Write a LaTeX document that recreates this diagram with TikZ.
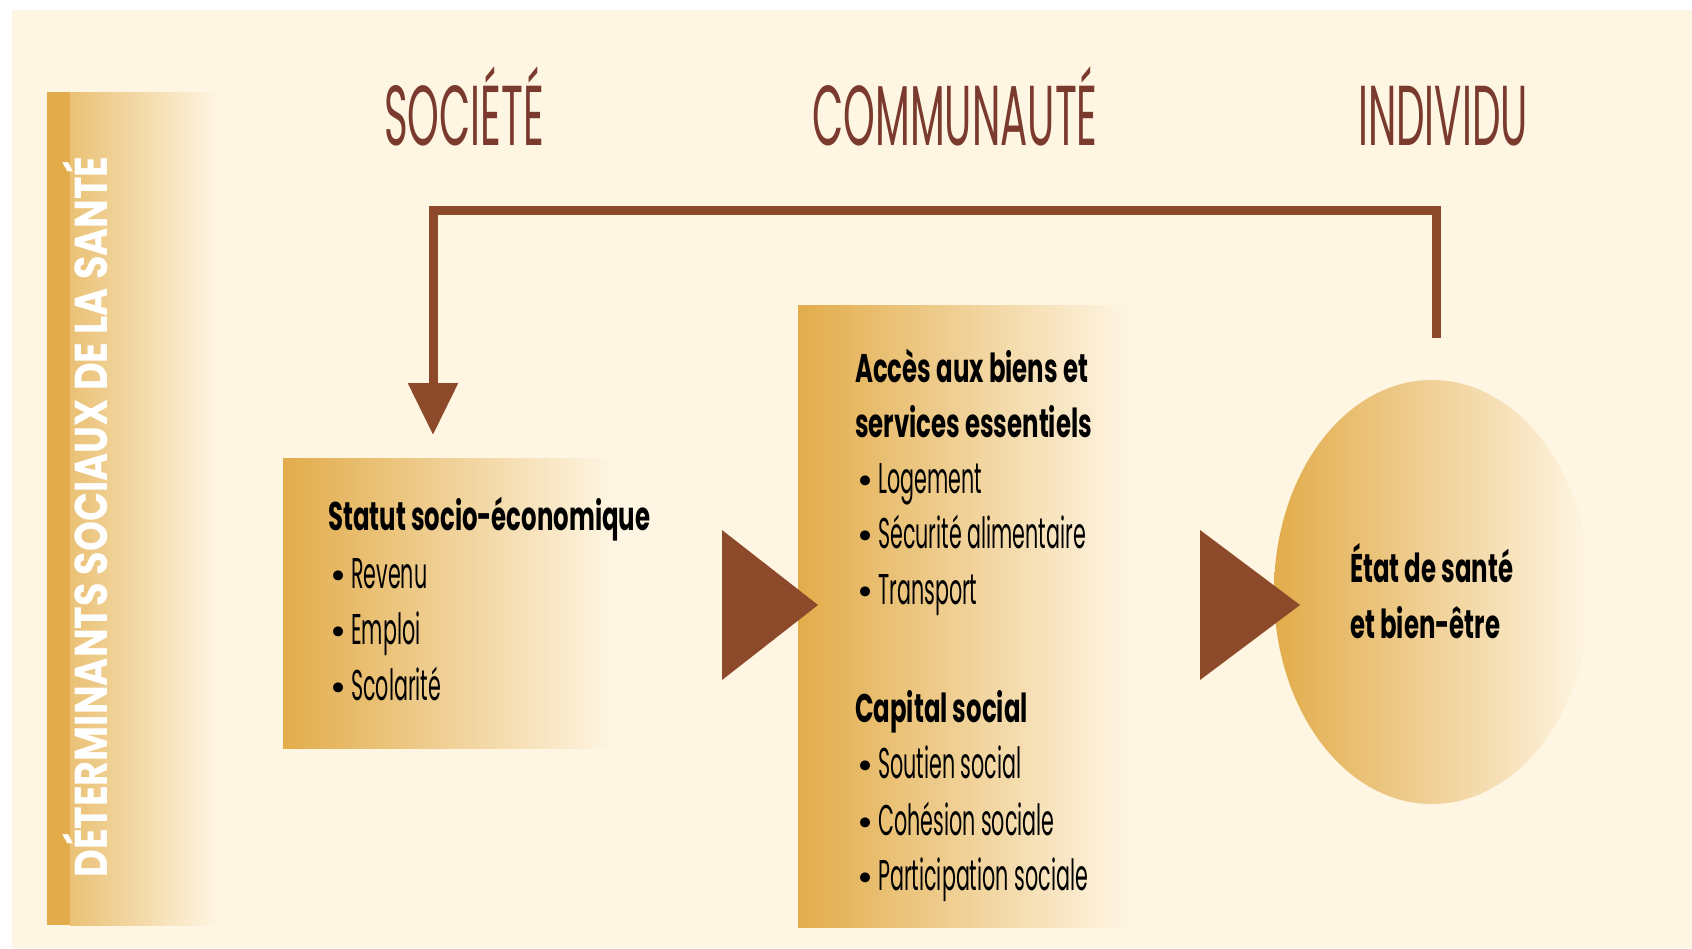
\documentclass[tikz,border=0pt]{standalone}
\usepackage{fontspec}
\usetikzlibrary{arrows.meta,calc,shapes.geometric}
\newfontfamily\hdfont[FakeStretch=0.475]{Poppins}
\newfontfamily\bxfont[FakeStretch=0.61]{Poppins}
\newfontfamily\itfont[FakeStretch=0.48]{Poppins}
\newfontfamily\vtfont[FakeStretch=0.83]{Poppins}
\newfontfamily\blfont{DejaVu Sans}
\newcommand{\bul}{{\blfont\fontsize{34}{48}\selectfont •}\hspace{3pt}}
\definecolor{cream}{HTML}{FEF5E2}
\definecolor{gold}{HTML}{E2AC4B}
\definecolor{goldlt}{HTML}{EAC175}
\definecolor{brownarr}{HTML}{8C4A2A}
\definecolor{brownhd}{HTML}{7B3A2E}
\begin{document}
\begin{tikzpicture}[x=1pt,y=-1pt,
  hd/.style={font=\hdfont\fontsize{85}{85}\selectfont, text=brownhd, inner sep=0pt, anchor=base},
  bold/.style={font=\bxfont\bfseries\fontsize{40}{48}\selectfont, inner sep=0pt, anchor=base west},
  item/.style={font=\itfont\fontsize{43}{48}\selectfont, inner sep=0pt, anchor=base west},
  panel/.style={inner sep=0pt, anchor=north west, left color=gold, right color=cream},
  fb/.style={draw=brownarr, line width=9pt, line join=miter},
  tri/.style={fill=brownarr}
]
\useasboundingbox (0,0) rectangle (1692,948);
\fill[white] (0,0) rectangle (1692,948);
\fill[cream] (12,10) rectangle (1692,948);

% left vertical bar
\fill[gold] (47,92) rectangle (70,925);
\shade[left color=goldlt, right color=cream] (70,92) rectangle (218,925);
\node[rotate=90, anchor=base, text=white, inner sep=0pt,
      font=\vtfont\bfseries\fontsize{46}{46}\selectfont] (vt) at (107,517)
      {DÉTERMINANTS SOCIAUX DE LA SANTÉ};

% headers
\node[hd] (soc) at (464,145) {SOCIÉTÉ};
\node[hd] (com) at (955,145) {COMMUNAUTÉ};
\node[hd] (ind) at (1443,145) {INDIVIDU};

% panels
\node[panel, minimum width=330pt, minimum height=290pt] (ses) at (283,458) {};
\node[panel, minimum width=330pt, minimum height=622pt] (acc) at (798,305) {};
\node[ellipse, draw=none, inner sep=0pt, minimum width=316pt, minimum height=424pt,
      left color=gold, right color=cream] (etat) at (1432,592) {};

% left panel text
\node[bold] (t1) at (328,530) {Statut socio-économique};
\node[item] (t2) at (328,588) {\bul Revenu};
\node[item] (t3) at (328,644) {\bul Emploi};
\node[item] (t4) at (328,700) {\bul Scolarité};

% middle panel text
\node[bold] (m1) at (855,382) {Accès aux biens et};
\node[bold] (m2) at (855,437) {services essentiels};
\node[item] (m3) at (855,493) {\bul Logement};
\node[item] (m4) at (855,548) {\bul Sécurité alimentaire};
\node[item] (m5) at (855,604) {\bul Transport};
\node[bold] (m6) at (855,722) {Capital social};
\node[item] (m7) at (855,778) {\bul Soutien social};
\node[item] (m8) at (855,835) {\bul Cohésion sociale};
\node[item] (m9) at (855,890) {\bul Participation sociale};

% ellipse text
\node[bold] (e1) at (1350,582) {État de santé};
\node[bold] (e2) at (1350,638) {et bien-être};

% big arrow triangles
\fill[tri] (722,530) -- (818,605) -- (722,680) -- cycle;
\fill[tri] (1200,530) -- (1300,605) -- (1200,680) -- cycle;

% feedback connector
\coordinate (fbs) at (1436,338);
\coordinate (fbe) at ($(ses.north west)+(150,0)$);
\draw[fb, shorten >=23pt, -{Triangle[width=48pt,length=52pt]}]
  (fbs) |- ($(fbe)+(0,-248)$) -| (fbe);
\end{tikzpicture}
\end{document}
